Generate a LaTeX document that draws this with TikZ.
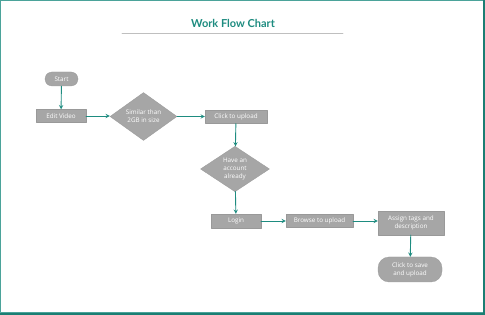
\documentclass[tikz,border=0pt]{standalone}
\usepackage{fontspec}
\setmainfont{Open Sans}
\newfontfamily\titlefont{Lato}
\usepackage{tikz}
\usetikzlibrary{shapes.geometric}
\definecolor{flowteal}{HTML}{1E8C80}
\definecolor{boxgray}{HTML}{A6A6A6}

\begin{document}
\begin{tikzpicture}[x=1pt, y=-1pt, line cap=round, line join=round,
  >=stealth,
  boxnode/.style={rectangle, fill=boxgray, draw=boxgray!92!black, line width=0.3pt,
    text=white, font=\fontsize{6.3}{7.8}\selectfont, align=center, inner sep=0pt},
  termnode/.style={boxnode, rounded corners=7pt},
  decnode/.style={diamond, fill=boxgray, draw=boxgray!92!black, line width=0.3pt,
    text=white, font=\fontsize{6.3}{7.8}\selectfont, align=center, inner sep=0pt},
  flow/.style={->, flowteal, line width=0.9pt}]
\useasboundingbox (0,0) rectangle (485,315);
\fill[white] (0,0) rectangle (485,315);
\draw[flowteal!80, line width=1pt] (0.5,0.5) rectangle (483.5,313);
\draw[flowteal!90!black, line width=2.5pt] (0,313.8) -- (485,313.8);
\draw[flowteal!90!black, line width=1.6pt] (484.2,0) -- (484.2,315);

\node[text=flowteal, font=\titlefont\bfseries\fontsize{11}{13}\selectfont] (title) at (233,23) {Work Flow Chart};
\draw[black!25, line width=0.6pt] (122,33.5) -- (343,33.5);

\node[termnode, minimum width=33pt, minimum height=14pt] (start) at (61.5,79) {Start};
\node[boxnode, minimum width=50pt, minimum height=13pt] (edit) at (61,116) {Edit Video};
\node[decnode, minimum width=67pt, minimum height=45pt] (size) at (143.5,116.5) {Similar than\\2GB in size};
\node[boxnode, minimum width=62pt, minimum height=13pt] (upload) at (236,117) {Click to upload};
\node[decnode, minimum width=69pt, minimum height=44pt] (account) at (235,169) {Have an\\account\\already};
\node[boxnode, minimum width=50pt, minimum height=14pt] (login) at (236,221) {Login};
\node[boxnode, minimum width=67pt, minimum height=13pt] (browse) at (319.5,221) {Browse to upload};
\node[boxnode, minimum width=66pt, minimum height=24pt] (tags) at (411,223) {Assign tags and\\description};
\node[termnode, rounded corners=11pt, minimum width=64pt, minimum height=25pt] (save) at (410,269.5) {Click to save\\and upload};

\draw[flow] (start) -- (edit);
\draw[flow] (edit) -- (edit -| size.west);
\draw[flow] (size.east) -- (size.east -| upload.west);
\draw[flow] (upload) -- (account);
\draw[flow] (account) -- (login);
\draw[flow] (login) -- (browse);
\draw[flow] (browse.east) -- (tags.west |- browse.east);
\draw[flow] (tags) -- (save);
\end{tikzpicture}
\end{document}
